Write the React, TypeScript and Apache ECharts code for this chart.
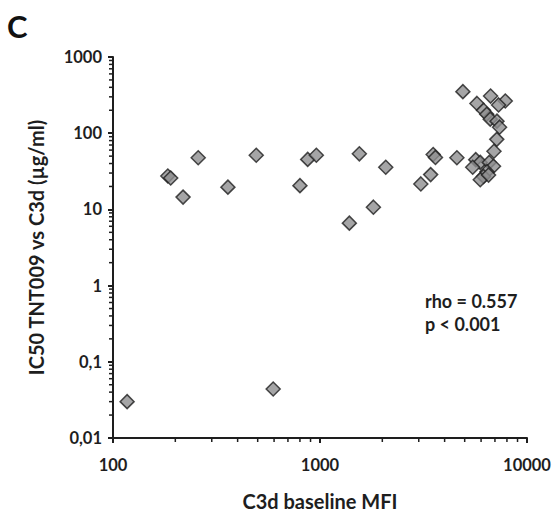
import React, { useEffect, useRef } from "react";
import * as echarts from "echarts";

const c3dBaselineMFI: number[] = [
  117, 594, 184, 190, 218, 258, 359, 492, 800, 872, 960, 1549, 2078, 1386, 1811,
  3070, 3424, 3522, 3612, 4585, 4900, 5730, 6668, 7853, 7290, 6166, 6390, 6644,
  7161, 7370, 7145, 6925, 5653, 5945, 5467, 6570, 6890, 6406, 6166, 5945, 6520,
];
const ic50Values: number[] = [
  0.030, 0.044, 27.4, 25.8, 14.5, 47.6, 19.6, 51.4, 20.5, 45.3, 51.4, 53.6, 35.7, 6.6, 10.7,
  21.6, 28.6, 52.5, 48.1, 47.6, 351, 246, 307, 265, 235, 200, 177, 153,
  144, 120, 83, 58, 45, 41.4, 35.7, 41.4, 36.8, 31.3, 27.1, 24.5, 28.2,
];
// tick labels keyed by decade exponent
const xTickLabels: Record<string, string> = { "2": "100", "3": "1000", "4": "10000" };
const yTickLabels: Record<string, string> = {
  "-2": "0,01", "-1": "0,1", "0": "1", "1": "10", "2": "100", "3": "1000",
};
const xDecades: number[] = [100, 1000];
const yDecades: number[] = [0.01, 0.1, 1, 10, 100];
const minorMultipliers: number[] = [2, 3, 4, 5, 6, 7, 8, 9];
const statLines: string[] = ["rho = 0.557", "p < 0.001"];

const FONT = "Lato, 'Noto Sans', sans-serif";
const INK = "#1e1e1e";

export default function App() {
  const ref = useRef<HTMLDivElement>(null);
  useEffect(() => {
    if (!ref.current) return;
    document.body.style.margin = "0";
    const chart = echarts.init(ref.current, undefined, { renderer: "svg" });
    const minorData: number[][] = [];
    yDecades.forEach((d) => minorMultipliers.forEach((m) => minorData.push([100, d * m, 0])));
    xDecades.forEach((d) => minorMultipliers.forEach((m) => minorData.push([d * m, 0.01, 1])));
    const expOf = (v: number) => String(Math.round(Math.log10(Number(v))));
    chart.setOption({
      animation: false,
      grid: { left: 113, right: 28, top: 57, bottom: 71, containLabel: false },
      xAxis: {
        type: "log",
        logBase: 10,
        min: 100,
        max: 10000,
        name: "C3d baseline MFI",
        nameLocation: "middle",
        nameGap: 53,
        nameTextStyle: { fontFamily: FONT, fontWeight: "bold", fontSize: 20, color: INK },
        axisLine: { lineStyle: { color: INK, width: 2 } },
        axisTick: { show: true, length: 5, lineStyle: { color: INK, width: 2 } },
        axisLabel: {
          formatter: (v: number) => xTickLabels[expOf(v)] ?? "",
          fontFamily: FONT, fontWeight: "bold", fontSize: 16.5, color: INK, margin: 18,
        },
        splitLine: { show: false },
      },
      yAxis: {
        type: "log",
        logBase: 10,
        min: 0.01,
        max: 1000,
        name: "IC50 TNT009 vs C3d (µg/ml)",
        nameLocation: "middle",
        nameGap: 67,
        nameRotate: 90,
        nameTextStyle: { fontFamily: FONT, fontWeight: "bold", fontSize: 20, color: INK },
        axisLine: { show: true, lineStyle: { color: INK, width: 2 } },
        axisTick: { show: true, length: 5, lineStyle: { color: INK, width: 2 } },
        axisLabel: {
          formatter: (v: number) => yTickLabels[expOf(v)] ?? "",
          fontFamily: FONT, fontWeight: "bold", fontSize: 16.5, color: INK, margin: 11,
        },
        splitLine: { show: false },
      },
      series: [
        {
          type: "scatter",
          data: c3dBaselineMFI.map((x, i) => [x, ic50Values[i]]),
          symbol: "diamond",
          symbolSize: 14,
          itemStyle: { color: "#8e8e90", borderColor: INK, borderWidth: 1.5 },
          z: 5,
        },
        {
          type: "custom",
          clip: false,
          silent: true,
          data: minorData,
          renderItem: (params: any, api: any) => {
            const p = api.coord([api.value(0), api.value(1)]);
            const dir = api.value(2);
            const shape = dir === 0
              ? { x1: p[0] - 4, y1: p[1], x2: p[0], y2: p[1] }
              : { x1: p[0], y1: p[1], x2: p[0], y2: p[1] + 4 };
            return { type: "line", shape, style: { stroke: INK, lineWidth: 1.5 } };
          },
          z: 2,
        },
      ],
      graphic: [
        {
          type: "text",
          left: 7,
          top: 10,
          style: { text: "C", fontFamily: FONT, fontWeight: "bold", fontSize: 31, fill: "#111" },
        },
        {
          type: "text",
          left: 425,
          top: 289,
          style: { text: statLines.join("\n"), fontFamily: FONT, fontWeight: "bold", fontSize: 18, lineHeight: 23, fill: INK },
        },
      ],
    });
    return () => chart.dispose();
  }, []);
  return <div ref={ref} style={{ width: 555, height: 516 }} />;
}
